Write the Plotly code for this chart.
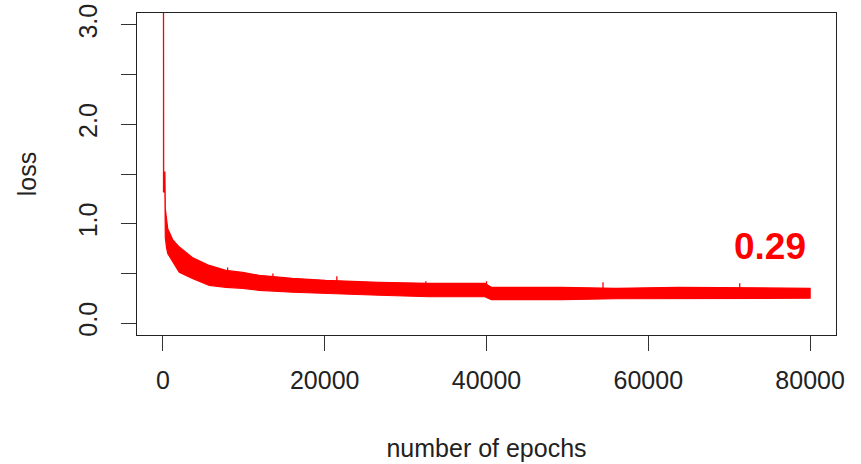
import plotly.graph_objects as go

# Envelope of the noisy loss curve
epochs_env = [0, 80, 100, 250, 300, 450, 600, 800, 1200, 2030, 3640, 5730, 7790,
              9850, 11900, 16000, 20100, 26700, 32900, 39800, 40600, 49300, 56000,
              63700, 70000, 75000, 80000]
loss_upper = [3.3, 3.3, 1.52, 1.52, 1.15, 1.02, 0.95, 0.915, 0.84, 0.765, 0.66, 0.58, 0.53,
              0.51, 0.48, 0.45, 0.43, 0.41, 0.40, 0.40, 0.36, 0.36, 0.35,
              0.36, 0.355, 0.35, 0.35]
loss_lower = [1.32, 1.32, 1.32, 1.32, 0.86, 0.76, 0.70, 0.68, 0.62, 0.51, 0.45, 0.38, 0.36,
              0.35, 0.33, 0.31, 0.30, 0.28, 0.265, 0.265, 0.235, 0.235, 0.245,
              0.245, 0.245, 0.25, 0.25]

# Isolated upward spikes visible above the band
spike_epochs = [8000, 13600, 21500, 32500, 40000, 54400, 71300]
spike_base = [0.45, 0.40, 0.36, 0.33, 0.33, 0.30, 0.30]
spike_top = [0.56, 0.50, 0.47, 0.42, 0.42, 0.41, 0.40]

x_ticks = [0, 20000, 40000, 60000, 80000]
x_tick_text = ["0", "20000", "40000", "60000", "80000"]
y_ticks = [0.0, 0.5, 1.0, 1.5, 2.0, 2.5, 3.0]
y_tick_text = ["0.0", "", "1.0", "", "2.0", "", "3.0"]

final_label = "0.29"
final_label_pos = (75050, 0.77)

RED = "#ff0000"

fig = go.Figure()
fig.add_trace(go.Scatter(
    x=epochs_env + epochs_env[::-1],
    y=loss_upper + loss_lower[::-1],
    fill="toself", fillcolor=RED,
    line=dict(color=RED, width=1.2),
    mode="lines", hoverinfo="skip", showlegend=False,
))

sx, sy = [], []
for e, b, t in zip(spike_epochs, spike_base, spike_top):
    sx += [e, e, None]
    sy += [b, t, None]
fig.add_trace(go.Scatter(
    x=sx, y=sy, mode="lines", line=dict(color=RED, width=1.3),
    hoverinfo="skip", showlegend=False,
))

fig.add_annotation(
    x=final_label_pos[0], y=final_label_pos[1], text="<b>%s</b>" % final_label,
    showarrow=False, font=dict(family="Liberation Sans", size=37, color=RED),
    xanchor="center", yanchor="middle",
)

axis_common = dict(
    showline=True, mirror=True, linecolor="#222", linewidth=1.3,
    ticks="outside", ticklen=15, tickwidth=1.3, tickcolor="#333",
    showgrid=False, zeroline=False, ticklabeloverflow="allow",
    tickfont=dict(family="Liberation Sans", size=25, color="#222"),
    title_font=dict(family="Liberation Sans", size=25, color="#222"),
)

fig.update_xaxes(
    range=[-3200, 83200], tickvals=x_ticks, ticktext=x_tick_text,
    title_text="number of epochs", title_standoff=46, ticklabelstandoff=8,
    **axis_common,
)
fig.update_yaxes(
    range=[-0.12, 3.12], tickvals=y_ticks, ticktext=y_tick_text, tickangle=-90,
    title_text="loss", title_standoff=30, ticklabelstandoff=14,
    **axis_common,
)

fig.update_layout(
    width=861, height=464,
    margin=dict(l=137, r=25, t=13, b=129, autoexpand=False),
    paper_bgcolor="white", plot_bgcolor="white",
)

# remove the browser's default 8px body margin so the figure fills the window
fig.write_html("out.html", config={"displayModeBar": False},
               post_script="document.body.style.margin='0';")
